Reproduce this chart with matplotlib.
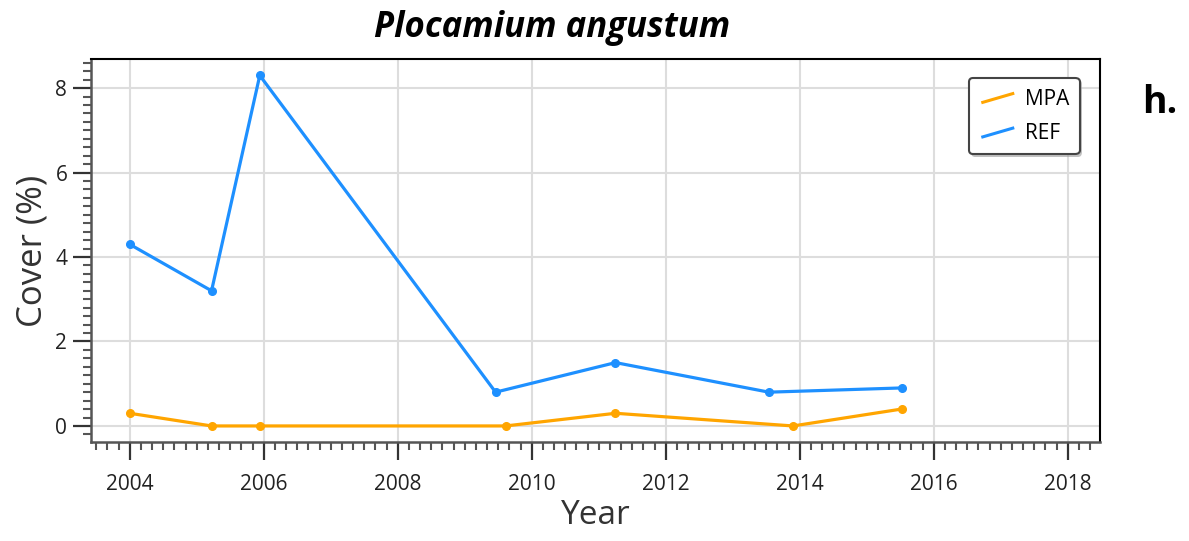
import matplotlib.pyplot as plt
from matplotlib.legend_handler import HandlerLine2D
from matplotlib.lines import Line2D
from matplotlib.ticker import MultipleLocator
import matplotlib.patheffects as pe

plt.rcParams['font.family'] = ['Open Sans', 'DejaVu Sans']

# ========== 数据 ==========
ref_year = [2004.0, 2005.22, 2005.94, 2009.46, 2011.25, 2013.54, 2015.52]
ref_cover = [4.3, 3.2, 8.3, 0.8, 1.5, 0.8, 0.9]
mpa_year = [2004.0, 2005.22, 2005.94, 2009.61, 2011.25, 2013.9, 2015.52]
mpa_cover = [0.3, 0.0, 0.0, 0.0, 0.3, 0.0, 0.4]
year_ticks = [2004, 2006, 2008, 2010, 2012, 2014, 2016, 2018]
cover_ticks = [0, 2, 4, 6, 8]

mpa_color = '#FFA500'
ref_color = '#1E90FF'


class SlantHandler(HandlerLine2D):
    """legend里画斜线"""
    def create_artists(self, legend, orig_handle, xdescent, ydescent,
                       width, height, fontsize, trans):
        line = Line2D([0.1 * width, 0.9 * width],
                      [0.15 * height, 0.75 * height],
                      color=orig_handle.get_color(), lw=2.2)
        line.set_transform(trans)
        return [line]


fig = plt.figure(figsize=(11.89, 5.41), dpi=100)
ax = fig.add_axes([0.0765, 0.183, 0.8485, 0.708])

ax.plot(mpa_year, mpa_cover, color=mpa_color, lw=2.3, marker='o', ms=5.5, label='MPA')
ax.plot(ref_year, ref_cover, color=ref_color, lw=2.3, marker='o', ms=5.5, label='REF')

ax.set_xlim(2003.42, 2018.48)
ax.set_ylim(-0.38, 8.69)
ax.set_xticks(year_ticks)
ax.set_yticks(cover_ticks)
ax.xaxis.set_minor_locator(MultipleLocator(1 / 6))
ax.yaxis.set_minor_locator(MultipleLocator(0.2))

ax.grid(True, which='major', color='#dddddd', lw=1.5)
ax.set_axisbelow(True)

ax.tick_params(axis='x', which='major', length=13, width=1.6, color='#333333',
               labelsize=15, labelcolor='#222222', direction='out', pad=10)
ax.tick_params(axis='y', which='major', length=13, width=1.6, color='#333333',
               labelsize=15, labelcolor='#222222', direction='out', pad=4)
ax.tick_params(axis='both', which='minor', length=6, width=1.5, color='#555555',
               direction='out')

for s in ['top', 'right']:
    ax.spines[s].set_color('black')
    ax.spines[s].set_linewidth(1.5)
for s in ['left', 'bottom']:
    ax.spines[s].set_color('#555555')
    ax.spines[s].set_linewidth(1.8)

ax.set_xlabel('Year', fontsize=24, color='#333333', labelpad=3)
ax.set_ylabel('Cover (%)', fontsize=25, color='#333333', labelpad=4)
fig.text(0.464, 0.948, 'Plocamium angustum', fontsize=25, fontweight='bold',
         fontstyle='italic', ha='center', va='center')

leg = ax.legend(loc='upper right', bbox_to_anchor=(0.980, 0.950), fontsize=15,
                handler_map={Line2D: SlantHandler()}, handlelength=1.8,
                fancybox=True, framealpha=1, edgecolor='#444444',
                borderpad=0.5, labelspacing=0.65, handletextpad=0.4,
                borderaxespad=0)
frame = leg.get_frame()
frame.set_linewidth(1.5)
frame.set_path_effects([pe.SimplePatchShadow(offset=(1.5, -1.5), shadow_rgbFace='#999999',
                                             alpha=0.6), pe.Normal()])

fig.text(0.975, 0.81, 'h.', fontsize=27, fontweight='bold', ha='center', va='center')

fig.savefig('out.png', dpi=100)
